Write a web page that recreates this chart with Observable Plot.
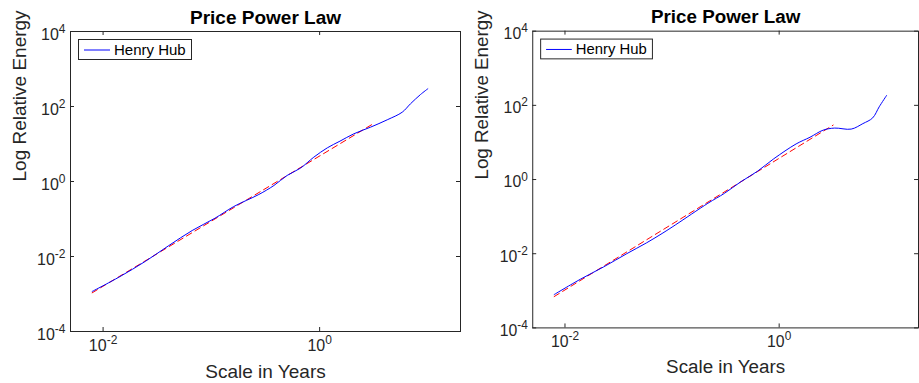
<!DOCTYPE html>
<html><head><meta charset="utf-8">
<script src="https://cdn.jsdelivr.net/npm/d3@7"></script>
<script src="https://cdn.jsdelivr.net/npm/@observablehq/plot@0.6"></script>
<style>
html,body{margin:0;padding:0;background:#fff;}
#wrap{position:relative;width:919px;height:383px;overflow:hidden;background:#fff;}
.panel{position:absolute;top:0;}
</style></head><body><div id="wrap"></div>
<script>
const xTicks = [0.01, 1];
const yTicks = [1e-4, 1e-2, 1, 1e2, 1e4];
const xTickLabels = ["10^-2", "10^0"];
const yTickLabels = ["10^-4", "10^-2", "10^0", "10^2", "10^4"];
const seriesName = "Henry Hub";
const chartTitle = "Price Power Law";
const xLabel = "Scale in Years";
const yLabel = "Log Relative Energy";

const leftScale  = [0.00793, 0.0140, 0.0247, 0.0405, 0.0665, 0.108, 0.161, 0.274, 0.378, 0.501, 0.665, 0.883, 1.18, 1.54, 2.07, 2.95, 4.21, 5.79, 6.90, 8.55, 9.98];
const leftEnergy = [0.00117, 0.00281, 0.0075, 0.0196, 0.0493, 0.105, 0.215, 0.450, 0.782, 1.45, 2.27, 4.45, 7.93, 11.9, 18.7, 28.1, 44.2, 70.5, 118, 209, 297];
const leftFitScale  = [0.00793, 3.23];
const leftFitEnergy = [0.001076, 36.7];

const rightScale  = [0.00793, 0.0140, 0.0230, 0.0377, 0.0577, 0.0822, 0.108, 0.216, 0.308, 0.438, 0.625, 0.891, 1.44, 1.94, 2.58, 3.30, 4.71, 6.04, 7.46, 8.59, 10.07];
const rightEnergy = [0.000793, 0.00207, 0.00442, 0.0100, 0.0196, 0.0363, 0.0604, 0.229, 0.424, 0.869, 1.66, 3.63, 9.12, 13.8, 21.5, 24.4, 22.9, 32.1, 45.8, 91.2, 185];
const rightFitScale  = [0.00793, 3.19];
const rightFitEnergy = [0.0007, 29.3];

const ink = "#262626";
const font = "'Liberation Sans', Arial, Helvetica, sans-serif";

function panel(scale, energy, fitScale, fitEnergy, left) {
  const series = scale.map((x, i) => ({x, y: energy[i]}));
  const fit = fitScale.map((x, i) => ({x, y: fitEnergy[i]}));
  const W = 461, H = 383, ML = 70, MR = 1, MT = 31, MB = 52;
  const pw = W - ML - MR, ph = H - MT - MB;
  const svg = Plot.plot({
    width: W, height: H,
    marginLeft: ML, marginRight: MR, marginTop: MT, marginBottom: MB,
    style: {fontFamily: font, fontSize: "16px", color: ink, background: "transparent", overflow: "visible"},
    x: {type: "log", domain: [0.005, 20], axis: null},
    y: {type: "log", domain: [1e-4, 1e4], axis: null},
    marks: [
      Plot.line(fit, {x: "x", y: "y", stroke: "#ff0000", strokeWidth: 1, strokeDasharray: "6,4"}),
      Plot.line(series, {x: "x", y: "y", stroke: "#0000ff", strokeWidth: 1, curve: "catmull-rom"}),
      Plot.tickX(xTicks, {x: d => d, stroke: ink, insetBottom: ph - 4}),
      Plot.tickX(xTicks, {x: d => d, stroke: ink, insetTop: ph - 4}),
      Plot.tickY(yTicks, {y: d => d, stroke: ink, insetRight: pw - 4}),
      Plot.tickY(yTicks, {y: d => d, stroke: ink, insetLeft: pw - 4}),
      Plot.frame({stroke: ink}),
      Plot.text(xTicks, {x: d => d, text: (d, i) => xTickLabels[i], frameAnchor: "bottom", lineAnchor: "bottom", dy: 19, fontSize: 16, fill: ink}),
      Plot.text(yTicks, {y: d => d, text: (d, i) => yTickLabels[i], frameAnchor: "left", textAnchor: "end", lineAnchor: "bottom", dx: -5, dy: 8, fontSize: 16, fill: ink}),
      Plot.text([0], {frameAnchor: "bottom", text: () => xLabel, lineAnchor: "bottom", dy: 46, fontSize: 19, fill: ink}),
      Plot.text([0], {frameAnchor: "left", rotate: -90, text: () => yLabel, lineAnchor: "bottom", dx: -45, fontSize: 19, fill: ink}),
      Plot.text([0], {frameAnchor: "top", text: () => chartTitle, lineAnchor: "bottom", dy: -8, fontSize: 19, fontWeight: "bold", fill: "#000"})
    ]
  });
  // superscript exponents in tick labels
  d3.select(svg).selectAll("text").each(function () {
    const m = /^10\^(-?\d+)$/.exec(this.textContent);
    if (!m) return;
    this.textContent = "";
    const t = d3.select(this);
    t.append("tspan").text("10");
    t.append("tspan").attr("dy", -7).attr("font-size", 12).text(m[1]);
  });
  // legend box
  const x0 = ML + 8.5;
  const y0 = MT + 8.5;
  const g = d3.select(svg).append("g").attr("font-family", font).attr("text-anchor", "start");
  g.append("rect").attr("x", x0).attr("y", y0).attr("width", 113).attr("height", 20)
    .attr("fill", "#fff").attr("stroke", ink).attr("stroke-width", 1);
  g.append("line").attr("x1", x0 + 5.5).attr("x2", x0 + 31.5).attr("y1", y0 + 10.5).attr("y2", y0 + 10.5)
    .attr("stroke", "#0000ff").attr("stroke-width", 1);
  g.append("text").attr("x", x0 + 35.5).attr("y", y0 + 15).attr("font-size", 15).attr("fill", "#000")
    .attr("text-anchor", "start").text(seriesName);
  const div = document.createElement("div");
  div.className = "panel";
  div.style.left = left + "px";
  div.appendChild(svg);
  document.getElementById("wrap").appendChild(div);
}

panel(leftScale, leftEnergy, leftFitScale, leftFitEnergy, 0);
panel(rightScale, rightEnergy, rightFitScale, rightFitEnergy, 463);
</script></body></html>
